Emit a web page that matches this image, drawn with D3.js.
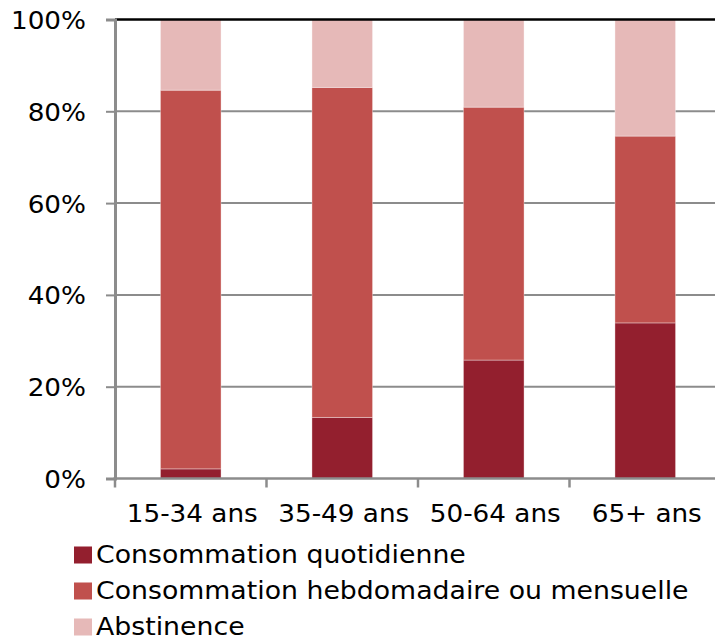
<!DOCTYPE html>
<html><head><meta charset="utf-8">
<script src="https://cdn.jsdelivr.net/npm/d3@7"></script>
<style>body{margin:0;background:#fff}svg{display:block}</style>
</head><body>
<svg id="c" width="715" height="638"></svg>
<script>
const categories = ["15-34 ans", "35-49 ans", "50-64 ans", "65+ ans"];
const seriesNames = ["Consommation quotidienne", "Consommation hebdomadaire ou mensuelle", "Abstinence"];
const quotidienne = [2.1, 13.3, 25.8, 33.9];
const hebdoMensuelle = [82.5, 71.9, 55.1, 40.7];
const abstinence = [15.4, 14.8, 19.1, 25.4];
const yTicks = [0, 20, 40, 60, 80, 100];
const colors = ["#931F2E", "#C0504D", "#E6B9B8"];

const FONT = "DejaVu Sans, Verdana, sans-serif";
const svg = d3.select("#c");
const mLeft = 115, mRight = 721, mTop = 19.5, mBottom = 478.5;
const x = d3.scaleBand().domain(categories).range([mLeft, mRight]).paddingInner(0.6).paddingOuter(0.3);
const xb = d3.scaleBand().domain(categories).range([mLeft, mRight]);
const y = d3.scaleLinear().domain([0, 100]).range([mBottom, mTop]);

// gridlines
svg.append("g").selectAll("line").data(yTicks.filter(t => t > 0 && t < 100)).join("line")
  .attr("x1", mLeft).attr("x2", mRight).attr("y1", d => y(d)).attr("y2", d => y(d))
  .attr("stroke", "#8c8c8c").attr("stroke-width", 2);

// data
const rows = categories.map((c, i) => ({cat: c, s0: quotidienne[i], s1: hebdoMensuelle[i], s2: abstinence[i]}));
const stack = d3.stack().keys(["s0", "s1", "s2"]);
const layers = stack(rows);

svg.append("g").selectAll("g").data(layers).join("g")
  .attr("fill", (d, i) => colors[i])
  .selectAll("rect").data(d => d).join("rect")
  .attr("x", d => x(d.data.cat))
  .attr("width", x.bandwidth())
  .attr("y", d => y(d[1]))
  .attr("height", d => y(d[0]) - y(d[1]))
  .attr("stroke", "rgba(255,255,255,0.35)").attr("stroke-width", 1);

// top line
svg.append("line").attr("x1", mLeft).attr("x2", mRight).attr("y1", y(100)).attr("y2", y(100))
  .attr("stroke", "#000").attr("stroke-width", 2.5);

// y axis
const yAxis = d3.axisLeft(y).tickValues(yTicks).tickFormat(d => d + "%").tickSize(9).tickPadding(20);
const gy = svg.append("g").attr("transform", `translate(${mLeft},0)`).call(yAxis);
gy.select(".domain").attr("stroke", "#8c8c8c").attr("stroke-width", 3);
gy.selectAll(".tick line").attr("stroke", "#8c8c8c").attr("stroke-width", 2);
gy.selectAll("text").attr("font-family", FONT).attr("font-size", 25).attr("fill", "#000")
  .attr("x", 0).attr("dy", "0.36em").attr("transform", "translate(-29,0) scale(1.05,1)");

// x axis
const gx = svg.append("g").attr("transform", `translate(0,${mBottom})`);
gx.append("line").attr("x1", mLeft - 1.5).attr("x2", mRight).attr("y1", 0).attr("y2", 0)
  .attr("stroke", "#8c8c8c").attr("stroke-width", 2.5);
gx.selectAll("line.tk").data(categories).join("line").attr("class", "tk")
  .attr("x1", d => xb(d)).attr("x2", d => xb(d)).attr("y1", 0).attr("y2", 9)
  .attr("stroke", "#8c8c8c").attr("stroke-width", 2.5);
gx.selectAll("text").data(categories).join("text")
  .attr("transform", d => `translate(${xb(d) + xb.bandwidth() / 2 + 1.5},43.5) scale(1.05,1)`)
  .attr("text-anchor", "middle")
  .attr("font-family", FONT).attr("font-size", 25).attr("fill", "#000")
  .text(d => d);

// legend
const lg = svg.append("g").attr("transform", "translate(74,545)");
const li = lg.selectAll("g").data(seriesNames).join("g").attr("transform", (d, i) => `translate(0,${i * 36})`);
li.append("rect").attr("width", 18).attr("height", 17).attr("y", 1.5).attr("fill", (d, i) => colors[i]);
li.append("text").attr("transform", "translate(22,17.5) scale(1.07,1)")
  .attr("font-family", FONT).attr("font-size", 25).attr("fill", "#000")
  .text(d => d);
</script>
</body></html>
